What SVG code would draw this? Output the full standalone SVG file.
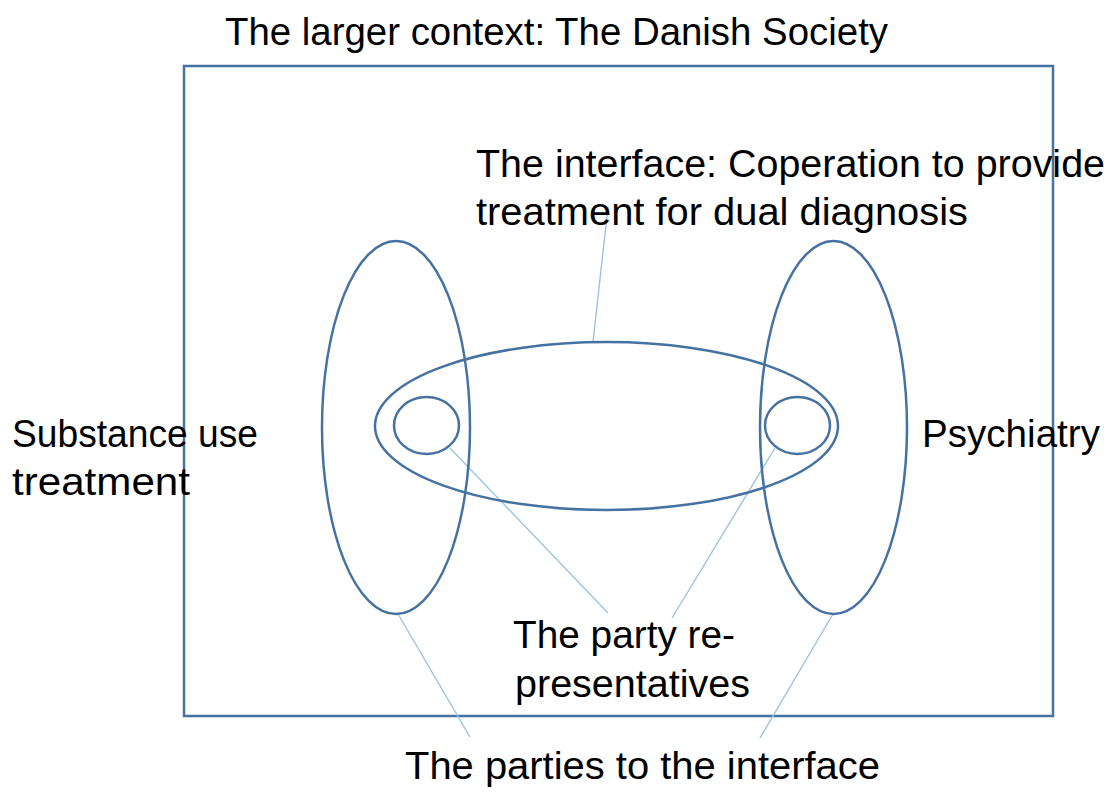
<svg xmlns="http://www.w3.org/2000/svg" width="1107" height="792" viewBox="0 0 1107 792">
<style>
.t{font-family:"Liberation Sans",Arial,sans-serif;font-size:38px;fill:#000}
.s{fill:none;stroke:#4672a2;stroke-width:2.5}
.c{stroke:#9cc2e5;stroke-width:1.4;fill:none}
</style>
<rect width="1107" height="792" fill="#fff"/>
<g id="context">
<rect class="s" x="184" y="66" width="869" height="650" stroke-width="2"/>
<text class="t" x="225" y="45" textLength="663" lengthAdjust="spacingAndGlyphs">The larger context: The Danish Society</text>
</g>
<g id="connectors">
<line class="c" x1="593" y1="342" x2="608" y2="207"/>
<line class="c" x1="450" y1="448" x2="608" y2="613"/>
<line class="c" x1="775" y1="448" x2="672" y2="618"/>
<line class="c" x1="398" y1="614" x2="470" y2="737"/>
<line class="c" x1="833" y1="614" x2="760" y2="738"/>
</g>
<g id="substance">
<ellipse class="s" cx="396" cy="427.5" rx="74" ry="186.5"/>
<text class="t" x="12" y="447" textLength="246" lengthAdjust="spacingAndGlyphs">Substance use</text>
<text class="t" x="12" y="495" textLength="178" lengthAdjust="spacingAndGlyphs">treatment</text>
</g>
<g id="psychiatry">
<ellipse class="s" cx="833.5" cy="427.5" rx="73.5" ry="186.5"/>
<text class="t" x="922" y="447" textLength="178" lengthAdjust="spacingAndGlyphs">Psychiatry</text>
</g>
<g id="interface">
<ellipse class="s" cx="606.5" cy="426" rx="231.5" ry="84"/>
<text class="t" x="476" y="177" textLength="629" lengthAdjust="spacingAndGlyphs">The interface: Coperation to provide</text>
<text class="t" x="476" y="225" textLength="492" lengthAdjust="spacingAndGlyphs">treatment for dual diagnosis</text>
</g>
<g id="rep-left">
<ellipse class="s" cx="426.5" cy="425.5" rx="32.5" ry="28.5"/>
</g>
<g id="rep-right">
<ellipse class="s" cx="797.5" cy="425.5" rx="32.5" ry="28.5"/>
</g>
<g id="representatives">
<text class="t" x="513" y="648" textLength="222" lengthAdjust="spacingAndGlyphs">The party re-</text>
<text class="t" x="515" y="697" textLength="235" lengthAdjust="spacingAndGlyphs">presentatives</text>
</g>
<g id="parties">
<text class="t" x="405" y="779" textLength="475" lengthAdjust="spacingAndGlyphs">The parties to the interface</text>
</g>
</svg>
